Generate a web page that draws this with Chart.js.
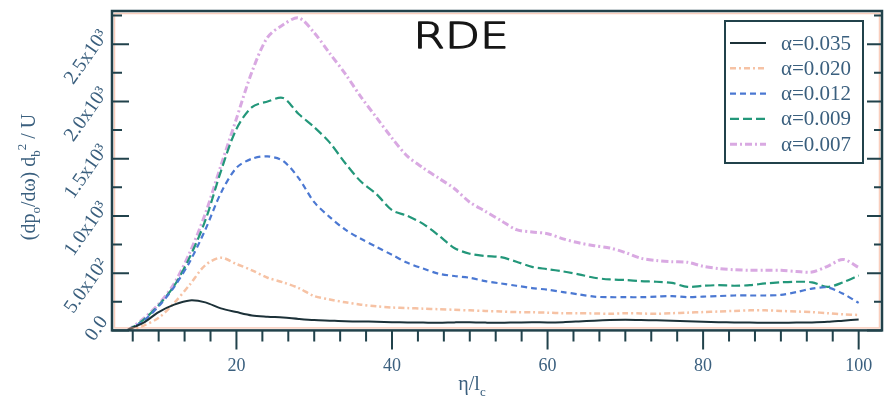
<!DOCTYPE html>
<html>
<head>
<meta charset="utf-8">
<script src="https://cdn.jsdelivr.net/npm/chart.js@4.4.0/dist/chart.umd.min.js"></script>
<style>
  html, body { margin: 0; padding: 0; background: #fff; }
</style>
</head>
<body>
<canvas id="chart" width="891" height="414"></canvas>
<script>
// eta / l_c positions (shared by all curves)
const etaValues = [6, 8, 10, 12, 14, 16, 18, 20, 22, 24, 26, 28, 30, 32, 34, 36, 38, 40, 42, 44,
  46, 48, 50, 52, 54, 56, 58, 60, 62, 64, 66, 68, 70, 72, 74, 76, 78, 80, 82, 84,
  86, 88, 90, 92, 94, 96, 98, 100];

// one array per alpha
const alpha035 = [5, 65, 160, 225, 262, 245, 192, 160, 131, 120, 112, 100, 90, 85, 80, 78, 76, 72, 70, 68,
  66, 70, 72, 68, 66, 70, 72, 70, 72, 78, 85, 90, 92, 90, 88, 85, 80, 76, 72, 70,
  68, 66, 66, 68, 70, 75, 85, 95];
const alpha020 = [0, 40, 110, 240, 400, 570, 635, 580, 525, 460, 420, 370, 300, 270, 245, 225, 210, 200, 195, 190,
  185, 180, 175, 170, 165, 160, 158, 155, 150, 150, 148, 145, 150, 148, 145, 150, 155, 160, 165, 170,
  175, 175, 170, 165, 160, 150, 140, 135];
const alpha012 = [0, 80, 210, 380, 600, 880, 1200, 1420, 1500, 1520, 1480, 1330, 1120, 990, 880, 800, 730, 660, 590, 540,
  495, 475, 460, 430, 410, 390, 370, 355, 335, 315, 295, 290, 290, 290, 295, 300, 290, 295, 300, 305,
  305, 305, 310, 335, 365, 375, 320, 240];
const alpha009 = [0, 90, 220, 390, 640, 960, 1390, 1760, 1950, 2000, 2030, 1890, 1775, 1640, 1460, 1300, 1190, 1050, 1000, 930,
  830, 720, 670, 650, 640, 600, 555, 535, 515, 490, 460, 445, 440, 430, 425, 415, 380, 390, 395, 390,
  395, 410, 420, 425, 420, 380, 420, 480];
const alpha007 = [0, 100, 230, 410, 680, 1020, 1440, 1850, 2260, 2560, 2670, 2730, 2600, 2420, 2240, 2040, 1860, 1680, 1520, 1420,
  1330, 1240, 1120, 1040, 960, 880, 860, 845, 800, 765, 740, 720, 680, 630, 610, 600, 595, 560, 540, 530,
  525, 525, 525, 515, 510, 560, 620, 550];

const seriesLabels = ['\u03b1=0.035', '\u03b1=0.020', '\u03b1=0.012', '\u03b1=0.009', '\u03b1=0.007'];
const xTickValues = [20, 40, 60, 80, 100];
const yTickValues = [0, 500, 1000, 1500, 2000, 2500];
const yTickLabels = ['0.0', '5.0x10\u00b2', '1.0x10\u00b3', '1.5x10\u00b3', '2.0x10\u00b3', '2.5x10\u00b3'];

const axisColor = '#21424b';
const textColor = '#3a5f7e';

function pts(values) {
  return etaValues.map((x, i) => ({ x: x, y: values[i] }));
}

// text made of pieces, some lowered (sub) or raised (sup)
function richText(ctx, parts, cx, cy, size) {
  const widths = parts.map(p => {
    ctx.font = (p.shift ? size * 0.65 : size) + 'px "Liberation Serif"';
    return ctx.measureText(p.t).width;
  });
  let x = cx - widths.reduce((a, b) => a + b, 0) / 2;
  parts.forEach((p, i) => {
    ctx.font = (p.shift ? size * 0.65 : size) + 'px "Liberation Serif"';
    ctx.fillText(p.t, x, cy + (p.shift || 0) * size);
    x += widths[i];
  });
}

const decorations = {
  id: 'decorations',
  afterDatasetsDraw(chart) {
    const ctx = chart.ctx;
    const a = chart.chartArea;
    const xs = chart.scales.x, ys = chart.scales.y;
    ctx.save();

    // faint coloured halo inside the frame, like the scan
    ctx.strokeStyle = 'rgba(244,165,135,0.55)';
    ctx.lineWidth = 1.5;
    ctx.strokeRect(a.left + 2.5, a.top + 2.5, a.right - a.left - 5, a.bottom - a.top - 5);

    ctx.strokeStyle = axisColor;
    ctx.lineWidth = 2.5;
    ctx.strokeRect(a.left, a.top, a.right - a.left, a.bottom - a.top);

    // tick marks
    ctx.lineWidth = 2;
    ctx.beginPath();
    for (let v = 0; v <= ys.max; v += 250) {
      const py = ys.getPixelForValue(v);
      const major = v % 500 === 0;
      ctx.moveTo(a.left, py); ctx.lineTo(a.left + (major ? 17 : 10), py);
      ctx.moveTo(a.right, py); ctx.lineTo(a.right - (major ? 15 : 8), py);
    }
    for (let k = 2; k * 10 / 3 <= xs.max; k++) {
      const v = k * 10 / 3;
      const px = xs.getPixelForValue(v);
      const major = k % 6 === 0;
      ctx.moveTo(px, a.bottom); ctx.lineTo(px, a.bottom + (major ? 19 : 11));
    }
    ctx.stroke();

    // slanted y tick labels
    ctx.fillStyle = textColor;
    ctx.font = '20px "Liberation Serif"';
    ctx.textAlign = 'right';
    ctx.textBaseline = 'middle';
    yTickValues.forEach((v, i) => {
      const py = ys.getPixelForValue(v);
      ctx.save();
      ctx.translate(a.left - 8, py - 12);
      ctx.rotate(-55 * Math.PI / 180);
      ctx.fillText(yTickLabels[i], 0, 0);
      ctx.restore();
    });

    // axis titles
    ctx.textAlign = 'left';
    ctx.textBaseline = 'alphabetic';
    ctx.save();
    ctx.translate(35, 177);
    ctx.rotate(-Math.PI / 2);
    richText(ctx, [
      { t: '(dp' }, { t: 'o', shift: 0.25 }, { t: '/d\u03c9) d' },
      { t: 'b', shift: 0.25 }, { t: '2', shift: -0.45 }, { t: ' / U' }
    ], 0, 0, 20);
    ctx.restore();
    richText(ctx, [{ t: '\u03b7/l' }, { t: 'c', shift: 0.3 }], 472, 390, 20);

    // "RDE" label in the plot
    ctx.save();
    ctx.fillStyle = '#161616';
    ctx.strokeStyle = '#161616';
    ctx.lineWidth = 1.3;
    ctx.lineJoin = 'round';
    ctx.font = '200 35px "DejaVu Sans"';
    ctx.textAlign = 'center';
    ctx.textBaseline = 'middle';
    ctx.translate(a.left + 349, a.top + 28);
    ctx.scale(1.3, 1);
    ctx.fillText('RDE', 0, 0);
    ctx.strokeText('RDE', 0, 0);
    ctx.restore();

    // legend box
    const lx = a.right - 157, ly = a.top + 10;
    ctx.fillStyle = '#fff';
    ctx.fillRect(lx, ly, 138, 142);
    ctx.strokeStyle = axisColor;
    ctx.lineWidth = 2;
    ctx.strokeRect(lx, ly, 138, 142);
    ctx.font = '21px "Liberation Serif"';
    ctx.textBaseline = 'middle';
    ctx.textAlign = 'left';
    chart.data.datasets.forEach((ds, i) => {
      const y = ly + 22 + i * 25.3;
      ctx.strokeStyle = ds.borderColor;
      ctx.lineWidth = ds.borderWidth;
      ctx.setLineDash(ds.borderDash || []);
      ctx.beginPath();
      ctx.moveTo(lx + 5, y);
      ctx.lineTo(lx + 41, y);
      ctx.stroke();
      ctx.setLineDash([]);
      ctx.fillStyle = textColor;
      ctx.fillText(ds.label, lx + 56, y + 1);
    });
    ctx.restore();
  }
};

new Chart(document.getElementById('chart').getContext('2d'), {
  type: 'line',
  data: {
    datasets: [
      { label: seriesLabels[0], data: pts(alpha035), borderColor: '#1c3138', borderWidth: 2 },
      { label: seriesLabels[1], data: pts(alpha020), borderColor: '#f6c2a4', borderWidth: 2.5, borderDash: [6, 3, 2, 3] },
      { label: seriesLabels[2], data: pts(alpha012), borderColor: '#4b78d2', borderWidth: 2.2, borderDash: [6, 4] },
      { label: seriesLabels[3], data: pts(alpha009), borderColor: '#23977a', borderWidth: 2.2, borderDash: [9, 4] },
      { label: seriesLabels[4], data: pts(alpha007), borderColor: '#d9a9e2', borderWidth: 3, borderDash: [7, 3, 2, 3] }
    ]
  },
  options: {
    responsive: false,
    animation: false,
    layout: { padding: { left: 112, right: 9, top: 11, bottom: 12 } },
    elements: { point: { radius: 0 }, line: { tension: 0.3 } },
    plugins: { legend: { display: false }, tooltip: { enabled: false } },
    scales: {
      x: {
        type: 'linear',
        min: 4,
        max: 103,
        grid: { display: false, drawTicks: false },
        border: { display: false },
        afterBuildTicks: axis => { axis.ticks = xTickValues.map(v => ({ value: v })); },
        afterFit: axis => { axis.paddingLeft = 0; axis.paddingRight = 0; },
        ticks: {
          padding: 25,
          maxRotation: 0,
          autoSkip: false,
          color: textColor,
          font: { family: 'Liberation Serif', size: 18 }
        }
      },
      y: {
        min: 0,
        max: 2790,
        grid: { display: false, drawTicks: false },
        border: { display: false },
        ticks: { display: false }
      }
    }
  },
  plugins: [decorations]
});
</script>
</body>
</html>
